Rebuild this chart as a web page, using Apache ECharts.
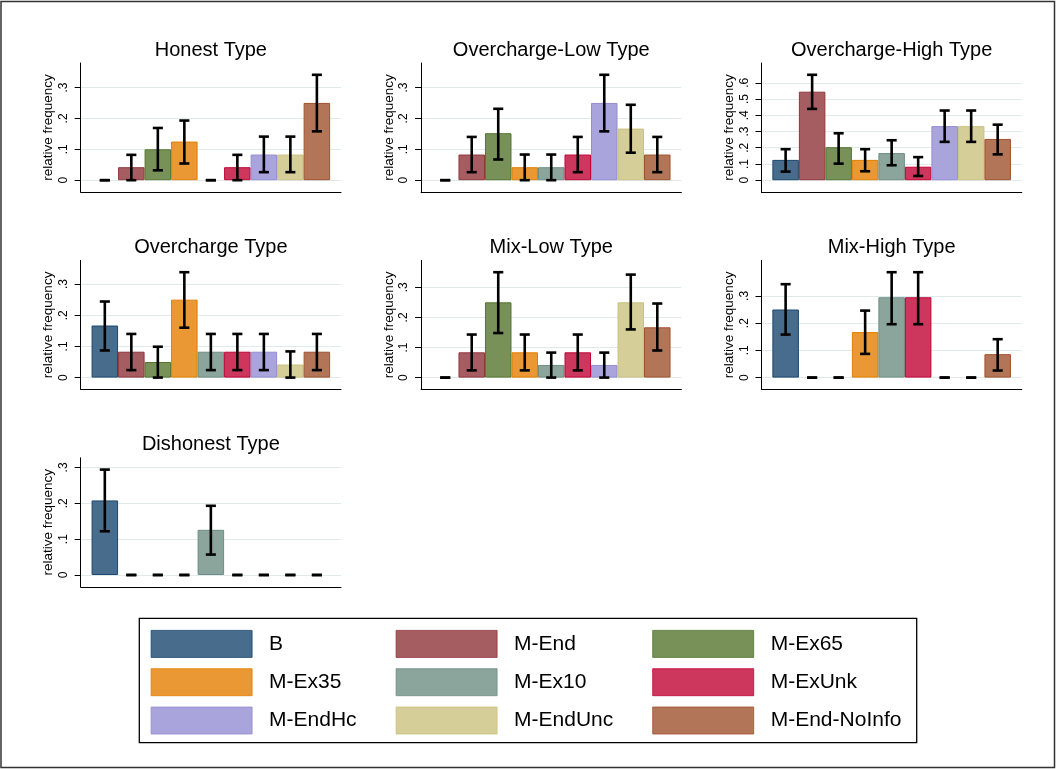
<!DOCTYPE html>
<html>
<head>
<meta charset="utf-8">
<script src="https://cdn.jsdelivr.net/npm/echarts@6/dist/echarts.min.js"></script>
<style>html,body{margin:0;padding:0;background:#fff}#c{width:1056px;height:769px}</style>
</head>
<body>
<div id="c"></div>
<script>
// ---------- data ----------
const categories = ['B', 'M-End', 'M-Ex65', 'M-Ex35', 'M-Ex10', 'M-ExUnk', 'M-EndHc', 'M-EndUnc', 'M-End-NoInfo'];
const panelTitles = ['Honest Type', 'Overcharge-Low Type', 'Overcharge-High Type', 'Overcharge Type', 'Mix-Low Type', 'Mix-High Type', 'Dishonest Type'];

const honest   = [0, 0.042, 0.100, 0.125, 0, 0.042, 0.083, 0.083, 0.250];
const honestLo = [0, 0,     0.032, 0.054, 0, 0,     0.026, 0.026, 0.158];
const honestHi = [0, 0.082, 0.169, 0.193, 0, 0.082, 0.141, 0.141, 0.341];

const ocLow   = [0, 0.083, 0.152, 0.042, 0.042, 0.083, 0.250, 0.167, 0.083];
const ocLowLo = [0, 0.026, 0.067, 0,     0,     0.026, 0.158, 0.089, 0.026];
const ocLowHi = [0, 0.140, 0.231, 0.083, 0.083, 0.140, 0.341, 0.244, 0.140];

const ocHigh   = [0.125, 0.545, 0.203, 0.125, 0.167, 0.083, 0.333, 0.333, 0.254];
const ocHighLo = [0.053, 0.439, 0.102, 0.055, 0.092, 0.026, 0.236, 0.236, 0.159];
const ocHighHi = [0.191, 0.649, 0.289, 0.191, 0.246, 0.142, 0.429, 0.429, 0.342];

const overcharge   = [0.167, 0.083, 0.050, 0.250, 0.083, 0.083, 0.083, 0.042, 0.083];
const overchargeLo = [0.087, 0.024, 0,     0.160, 0.024, 0.024, 0.024, 0,     0.024];
const overchargeHi = [0.244, 0.140, 0.099, 0.338, 0.140, 0.140, 0.140, 0.084, 0.140];

const mixLow   = [0, 0.084, 0.250, 0.084, 0.042, 0.084, 0.042, 0.250, 0.167];
const mixLowLo = [0, 0.024, 0.148, 0.024, 0,     0.024, 0,     0.160, 0.090];
const mixLowHi = [0, 0.143, 0.350, 0.143, 0.083, 0.143, 0.083, 0.342, 0.246];

const mixHigh   = [0.250, 0, 0, 0.167, 0.295, 0.295, 0, 0, 0.086];
const mixHighLo = [0.158, 0, 0, 0.087, 0.196, 0.196, 0, 0, 0.026];
const mixHighHi = [0.343, 0, 0, 0.246, 0.387, 0.387, 0, 0, 0.141];

const dishonest   = [0.208, 0, 0, 0, 0.126, 0, 0, 0, 0];
const dishonestLo = [0.122, 0, 0, 0, 0.057, 0, 0, 0, 0];
const dishonestHi = [0.294, 0, 0, 0, 0.193, 0, 0, 0, 0];

const yTicksLow  = [0, 0.1, 0.2, 0.3];
const yTicksHigh = [0, 0.1, 0.2, 0.3, 0.4, 0.5, 0.6];

const legendColumns = [
  ['B', 'M-Ex35', 'M-EndHc'],
  ['M-End', 'M-Ex10', 'M-EndUnc'],
  ['M-Ex65', 'M-ExUnk', 'M-End-NoInfo']
];

// ---------- styles ----------
const barLine = ['#1a476f', '#90353b', '#55752f', '#e37e00', '#6e8e84', '#c10534', '#938dd2', '#cac27e', '#a0522d'];
const barFill = ['#486c8c', '#a65d62', '#779159', '#e99833', '#8ba59d', '#cd375d', '#a9a4db', '#d5ce98', '#b37557'];
const FONT = "'Liberation Sans', Arial, Helvetica, sans-serif";

const panels = [
  { title: panelTitles[0], v: honest, lo: honestLo, hi: honestHi, ticks: yTicksLow },
  { title: panelTitles[1], v: ocLow, lo: ocLowLo, hi: ocLowHi, ticks: yTicksLow },
  { title: panelTitles[2], v: ocHigh, lo: ocHighLo, hi: ocHighHi, ticks: yTicksHigh },
  { title: panelTitles[3], v: overcharge, lo: overchargeLo, hi: overchargeHi, ticks: yTicksLow },
  { title: panelTitles[4], v: mixLow, lo: mixLowLo, hi: mixLowHi, ticks: yTicksLow },
  { title: panelTitles[5], v: mixHigh, lo: mixHighLo, hi: mixHighHi, ticks: yTicksLow },
  { title: panelTitles[6], v: dishonest, lo: dishonestLo, hi: dishonestHi, ticks: yTicksLow }
];

// layout
const G_LEFT = 80.7, G_TOP = 63, COL_STEP = 340.4, ROW_STEP = 197.4, G_W = 260.3, G_H = 129;
const MARGIN = 0.112;       // plot region inner margin (fraction of data range)
const XPAD = 0.91;          // outer gap beside first/last bar, in bar units
const positions = categories.map((c, i) => i + 1);

const fmt = v => { const s = (+v).toFixed(1); return s === '0.0' ? '0' : s.replace(/^0/, ''); };

const grid = [], xAxis = [], yAxis = [], series = [], title = [];

panels.forEach((p, k) => {
  const col = k % 3, row = Math.floor(k / 3);
  const left = G_LEFT + col * COL_STEP, top = G_TOP + row * ROW_STEP;
  grid.push({ left: left, top: top, width: G_W, height: G_H, containLabel: false });
  title.push({
    text: p.title, left: left + G_W / 2, top: top - 23, textAlign: 'center', padding: 0,
    textStyle: { fontFamily: FONT, fontSize: 20, fontWeight: 'normal', color: '#000' }
  });
  const ymaxData = Math.max(...p.hi, ...p.v);
  xAxis.push({
    gridIndex: k, type: 'value',
    min: positions[0] - XPAD, max: positions[positions.length - 1] + XPAD,
    axisLine: { show: true, onZero: false, lineStyle: { color: '#000', width: 1 } },
    axisTick: { show: false }, axisLabel: { show: false }, splitLine: { show: false }
  });
  yAxis.push({
    gridIndex: k, type: 'value',
    min: -MARGIN * ymaxData, max: (1 + MARGIN) * ymaxData,
    axisLine: { show: true, onZero: false, lineStyle: { color: '#000', width: 1 } },
    axisTick: { show: true, length: 6, customValues: p.ticks, lineStyle: { color: '#000', width: 1 } },
    axisLabel: { customValues: p.ticks, rotate: 90, margin: 11, fontSize: 12, color: '#000', fontFamily: FONT, formatter: fmt },
    splitLine: { show: true, lineStyle: { color: '#e1eaea', width: 1 } },
    name: 'relative frequency', nameLocation: 'middle', nameGap: 25,
    nameTextStyle: { fontSize: 13.5, color: '#000', fontFamily: FONT }
  });
  categories.forEach((c, i) => {
    series.push({
      type: 'bar', name: c, xAxisIndex: k, yAxisIndex: k,
      barWidth: '100%', barGap: '-100%',
      data: [[positions[i], p.v[i] > 0 ? p.v[i] : '-']],
      itemStyle: { color: barFill[i], borderColor: barLine[i], borderWidth: 1 },
      emphasis: { disabled: true }, silent: true
    });
  });
  series.push({
    type: 'custom', name: 'ci', xAxisIndex: k, yAxisIndex: k, z: 5, silent: true,
    encode: { x: 0, y: [1, 2] },
    data: categories.map((c, i) => [positions[i], p.lo[i], p.hi[i]]),
    renderItem: function (params, api) {
      const x = api.value(0);
      const a = api.coord([x, api.value(1)]);
      const b = api.coord([x, api.value(2)]);
      const half = api.size([1, 0])[0] * 0.19;
      const st = { stroke: '#000', lineWidth: 2.6 };
      return {
        type: 'group', children: [
          { type: 'line', shape: { x1: a[0], y1: a[1], x2: b[0], y2: b[1] }, style: st },
          { type: 'line', shape: { x1: a[0] - half, y1: a[1], x2: a[0] + half, y2: a[1] }, style: st },
          { type: 'line', shape: { x1: b[0] - half, y1: b[1], x2: b[0] + half, y2: b[1] }, style: st }
        ]
      };
    }
  });
});

const legendLefts = [150.7, 395.7, 652.3];
const legend = legendColumns.map((names, c) => ({
  data: names, orient: 'vertical', left: legendLefts[c], top: 630, padding: 0,
  itemWidth: 101, itemHeight: 27, itemGap: 10.5, icon: 'rect', selectedMode: false,
  itemStyle: { borderWidth: 0.8 },
  formatter: '{t|{name}}',
  textStyle: { rich: { t: { fontSize: 21, fontFamily: FONT, color: '#000', padding: [0, 0, 0, 12] } } }
}));

const chart = echarts.init(document.getElementById('c'), null, { renderer: 'canvas' });
chart.setOption({
  animation: false,
  backgroundColor: '#fff',
  textStyle: { fontFamily: FONT },
  title: title,
  grid: grid, xAxis: xAxis, yAxis: yAxis, series: series, legend: legend,
  graphic: [
    { type: 'rect', shape: { x: 1, y: 1.5, width: 1053.5, height: 766 }, style: { fill: 'none', stroke: '#333', lineWidth: 1.5 }, silent: true },
    { type: 'rect', shape: { x: 139.3, y: 618.3, width: 777.4, height: 124.4 }, style: { fill: 'none', stroke: '#000', lineWidth: 1.3 }, silent: true }
  ]
});
</script>
</body>
</html>
